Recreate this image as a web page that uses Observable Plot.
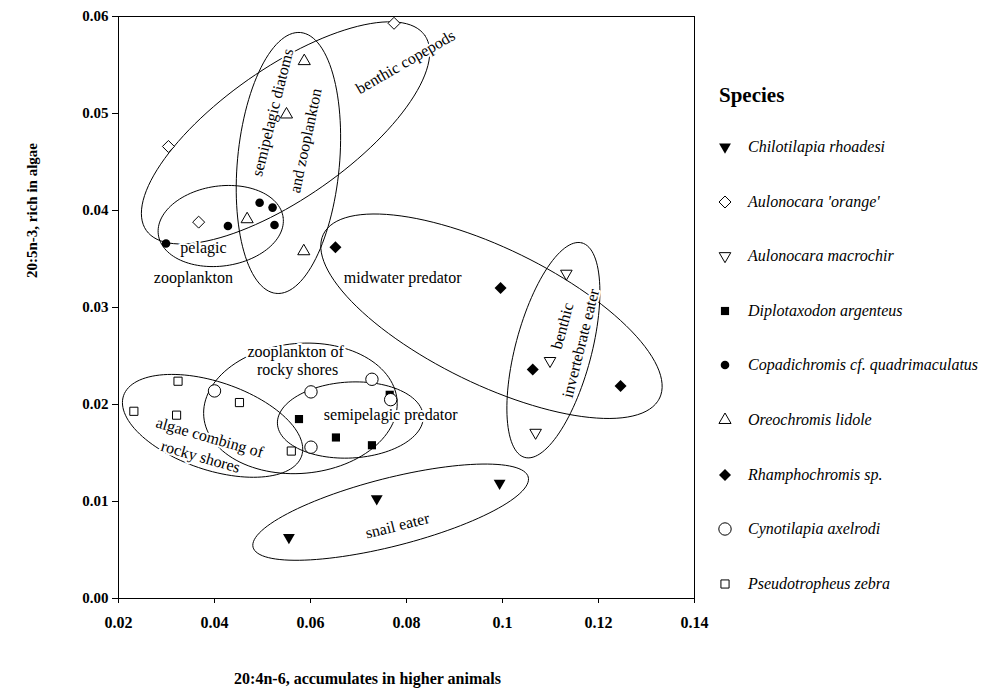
<!DOCTYPE html>
<html><head><meta charset="utf-8">
<script src="https://cdn.jsdelivr.net/npm/d3@7"></script>
<script src="https://cdn.jsdelivr.net/npm/@observablehq/plot@0.6"></script>
<style>
body{margin:0;background:#fff;}
#wrap{position:relative;width:1004px;height:692px;overflow:hidden;}
#legend{position:absolute;left:0;top:0;width:1004px;height:692px;pointer-events:none;font-family:"Liberation Serif","Times New Roman",serif;color:#000;}
</style></head><body><div id="wrap"><div id="legend"></div></div>
<script>
// ---- data ----
const species = ["Chilotilapia rhoadesi","Aulonocara 'orange'","Aulonocara macrochir","Diplotaxodon argenteus","Copadichromis cf. quadrimaculatus","Oreochromis lidole","Rhamphochromis sp.","Cynotilapia axelrodi","Pseudotropheus zebra"];
const x20_4n6 = [
  [0.0555,0.0738,0.0994],
  [0.0304,0.0367,0.0774],
  [0.1133,0.1099,0.1069],
  [0.0576,0.0653,0.0728,0.0765],
  [0.0299,0.0428,0.0494,0.0521,0.0525],
  [0.0468,0.0586,0.0550,0.0587],
  [0.0652,0.0996,0.1063,0.1246],
  [0.0400,0.0601,0.0728,0.0767,0.0601],
  [0.0232,0.0324,0.0321,0.0452,0.0560]
];
const y20_5n3 = [
  [0.0063,0.0103,0.0119],
  [0.0466,0.0388,0.0593],
  [0.0335,0.0245,0.0171],
  [0.0185,0.0166,0.0158,0.0210],
  [0.0366,0.0384,0.0408,0.0403,0.0385],
  [0.0391,0.0358,0.0499,0.0554],
  [0.0362,0.0320,0.0236,0.0219],
  [0.0214,0.0213,0.0226,0.0205,0.0156],
  [0.0193,0.0224,0.0189,0.0202,0.0152]
];
const xTicks = [0.02,0.04,0.06,0.08,0.10,0.12,0.14];
const yTicks = [0.00,0.01,0.02,0.03,0.04,0.05,0.06];
const xTickLabels = ["0.02","0.04","0.06","0.08","0.1","0.12","0.14"];
const yTickLabels = ["0.00","0.01","0.02","0.03","0.04","0.05","0.06"];
const xTitle = "20:4n-6, accumulates in higher animals";
const yTitle = "20:5n-3, rich in algae";
const legendTitle = "Species";

// group annotations (ellipses): centre in data units
const groupNames = ["benthic copepods","semipelagic diatoms and zooplankton","pelagic zooplankton","midwater predator","benthic invertebrate eater","zooplankton of rocky shores","algae combing of rocky shores","semipelagic predator","snail eater"];
const groupCx = [0.0548,0.0554,0.0413,0.0977,0.1106,0.0579,0.0396,0.0683,0.0767];
const groupCy = [0.0480,0.0449,0.0384,0.0291,0.0256,0.0196,0.0178,0.0184,0.0089];
// semi axes (px) and angle (deg, screen)
const groupA = [170,131,63,187,111,97,94,73,142];
const groupB = [65,51,40,68,38,65,44,38,34];
const groupAng = [-35,95.3,-8,26,-75.1,-5,18.7,-3,-14.3];

// annotation labels
const labelText = ["benthic copepods","semipelagic diatoms","and zooplankton","pelagic","zooplankton","midwater predator","benthic","invertebrate eater","zooplankton of","rocky shores","algae combing of","rocky shores","semipelagic predator","snail eater"];
const labelX = [0.0798,0.0521,0.0590,0.0377,0.0356,0.0792,0.1125,0.1163,0.0569,0.0573,0.0390,0.0371,0.0767,0.0781];
const labelY = [0.0553,0.0501,0.0472,0.0361,0.0331,0.0331,0.0281,0.0263,0.0254,0.0236,0.0166,0.0146,0.0189,0.0075];
const labelRot = [-30,-76,-78,0,0,0,-75,-76,0,0,16,16,0,-14];

// ---- layout ----
const W = 1004, H = 692, ML = 118, MR = 310, MT = 16, MB = 94;
const xDom = [0.02,0.14], yDom = [0,0.06];
const kx = (W-ML-MR)/(xDom[1]-xDom[0]);
const ky = (H-MT-MB)/(yDom[1]-yDom[0]);

// symbols
const triDown = {draw(ctx, size){
  const y = -Math.sqrt(size/(Math.sqrt(3)*3));
  ctx.moveTo(0,-y*2); ctx.lineTo(-Math.sqrt(3)*y, y); ctx.lineTo(Math.sqrt(3)*y, y); ctx.closePath();
}};
const styles = [
  {symbol: triDown, fill:"black", stroke:"none", r:4.4},
  {symbol: d3.symbolDiamond2, fill:"white", stroke:"black", r:5.4},
  {symbol: triDown, fill:"white", stroke:"black", r:4.3},
  {symbol: d3.symbolSquare, fill:"black", stroke:"none", r:4.6},
  {symbol: d3.symbolCircle, fill:"black", stroke:"none", r:4.3},
  {symbol: d3.symbolTriangle, fill:"white", stroke:"black", r:4.5},
  {symbol: d3.symbolDiamond2, fill:"black", stroke:"none", r:5.4},
  {symbol: d3.symbolCircle, fill:"white", stroke:"black", r:6.2},
  {symbol: d3.symbolSquare, fill:"white", stroke:"black", r:4.6}
];

// ellipse outlines
const outlines = [];
groupNames.forEach((g,i)=>{
  const th = groupAng[i]*Math.PI/180;
  for (let d=0; d<=360; d+=3){
    const t = d*Math.PI/180;
    const px = groupA[i]*Math.cos(t)*Math.cos(th) - groupB[i]*Math.sin(t)*Math.sin(th);
    const py = groupA[i]*Math.cos(t)*Math.sin(th) + groupB[i]*Math.sin(t)*Math.cos(th);
    outlines.push({g, x: groupCx[i] + px/kx, y: groupCy[i] - py/ky});
  }
});
const labels = labelText.map((t,i)=>({t, x:labelX[i], y:labelY[i], r:labelRot[i]}));

const dotMarks = species.map((s,i)=>{
  const pts = x20_4n6[i].map((x,j)=>({x, y:y20_5n3[i][j]}));
  const st = styles[i];
  return Plot.dot(pts, {x:"x", y:"y", symbol: st.symbol, r: st.r, fill: st.fill, stroke: st.stroke, strokeWidth: 1});
});

const fmtX = d => xTickLabels[xTicks.findIndex(v=>Math.abs(v-d)<1e-9)];
const fmtY = d => yTickLabels[yTicks.findIndex(v=>Math.abs(v-d)<1e-9)];

const chart = Plot.plot({
  width: W, height: H, marginLeft: ML, marginRight: MR, marginTop: MT, marginBottom: MB,
  style: {fontFamily: "Liberation Serif, Times New Roman, serif", fontSize: "16px", color: "black", background: "white"},
  x: {domain: xDom, axis: null},
  y: {domain: yDom, axis: null},
  marks: [
    Plot.line(outlines, {x:"x", y:"y", z:"g", stroke:"black", strokeWidth:1, curve:"catmull-rom"}),
    Plot.text(labels, {x:"x", y:"y", text:"t", rotate:"r", fontSize:16, fill:"black", stroke:"white", strokeWidth:4}),
    ...dotMarks,
    Plot.frame({stroke:"black", strokeWidth:1}),
    Plot.axisX(xTicks, {tickSize:5, tickPadding:13, tickFormat: fmtX, fontWeight:"bold", fontSize:16, label:null}),
    Plot.axisY(yTicks, {tickSize:6, tickPadding:4, tickFormat: fmtY, fontWeight:"bold", fontSize:15, label:null}),
    Plot.text([xTitle], {frameAnchor:"bottom", textAnchor:"middle", dx:-39, dy:85, fontWeight:"bold", fontSize:16, fill:"black"}),
    Plot.text([yTitle], {frameAnchor:"left", textAnchor:"middle", rotate:-90, dx:-86, dy:-97, fontWeight:"bold", fontSize:15, fill:"black"})
  ]
});
document.getElementById("wrap").insertBefore(chart, document.getElementById("legend"));

// legend (HTML overlay in the right margin)
const leg = document.getElementById("legend");
const title = document.createElement("div");
title.textContent = legendTitle;
Object.assign(title.style,{position:"absolute",left:"719px",top:"83px",fontWeight:"bold",fontSize:"21px"});
leg.appendChild(title);
species.forEach((s,i)=>{
  const cy = 147 + i*54.6;
  const st = styles[i];
  const ns = "http://www.w3.org/2000/svg";
  const svg = document.createElementNS(ns,"svg");
  svg.setAttribute("width",20); svg.setAttribute("height",20);
  Object.assign(svg.style,{position:"absolute",left:(725-10)+"px",top:(cy-10)+"px",overflow:"visible"});
  const p = document.createElementNS(ns,"path");
  p.setAttribute("d", d3.symbol(st.symbol, Math.PI*st.r*st.r)());
  p.setAttribute("transform","translate(10,10)");
  p.setAttribute("fill", st.fill); p.setAttribute("stroke", st.stroke); p.setAttribute("stroke-width",1);
  svg.appendChild(p); leg.appendChild(svg);
  const t = document.createElement("div");
  t.textContent = s;
  Object.assign(t.style,{position:"absolute",left:"748px",top:(cy-10)+"px",fontStyle:"italic",fontSize:"16px",lineHeight:"20px",whiteSpace:"nowrap"});
  leg.appendChild(t);
});
</script></body></html>
